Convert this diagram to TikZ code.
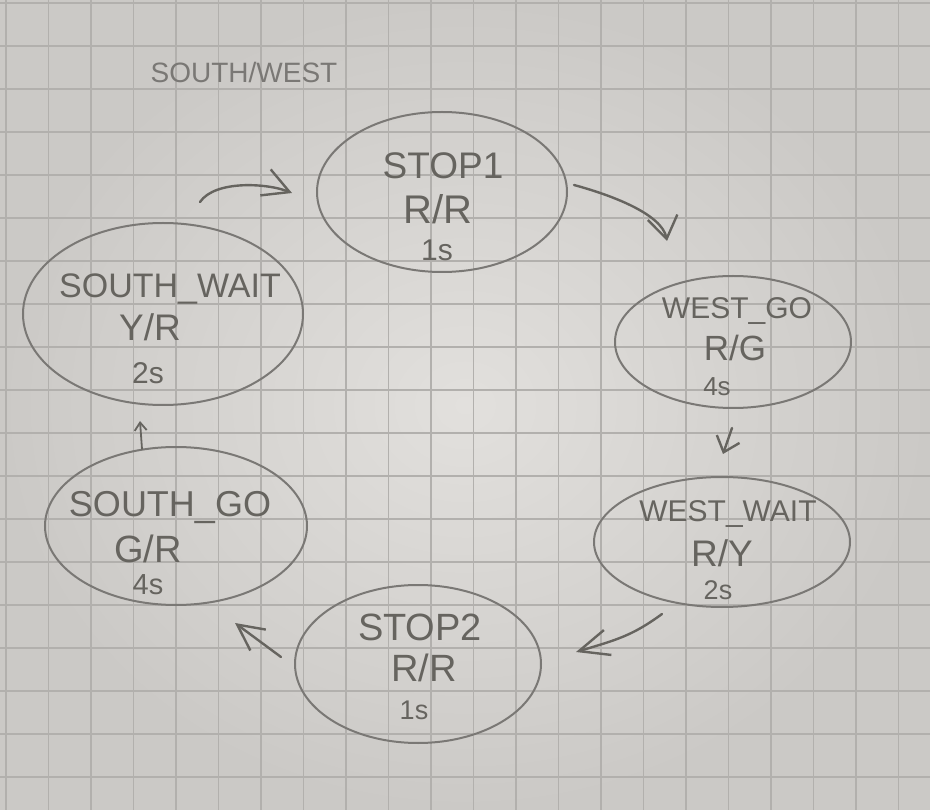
\documentclass[tikz,border=0pt]{standalone}
\usepackage{fontspec}
\setmainfont{Liberation Sans}
\usetikzlibrary{shapes.geometric,arrows.meta,calc}

\definecolor{paperlight}{HTML}{E2E0DD}
\definecolor{paperdark}{HTML}{CBC9C6}
\definecolor{gridline}{HTML}{B2B0AD}
\definecolor{pencil}{HTML}{7A7875}
\definecolor{lead}{HTML}{66645F}

\begin{document}
\begin{tikzpicture}[x=1pt,y=-1pt,
  state/.style={draw=pencil, line width=2pt, ellipse, inner sep=0pt},
  % text placed by the middle of its capitals; argument = font size in pt
  txt/.style={text=lead, inner sep=0pt, anchor=base,
    font=\fontsize{#1}{#1}\selectfont, yshift={-0.36*#1pt}},
  arr/.style={draw=lead, line width=2.4pt, line cap=round, line join=round},
]
\useasboundingbox (0,0) rectangle (930,810);

% squared paper
\shade[inner color=paperlight, outer color=paperdark] (0,0) rectangle (930,810);
\foreach \x in {6,48.5,...,930} \draw[gridline, line width=1.4pt] (\x,0) -- (\x,810);
\foreach \y in {3,46,...,810} \draw[gridline, line width=1.4pt] (0,\y) -- (930,\y);

% title
\node[txt=28, text=pencil] (title) at (244,72) {SOUTH/WEST};

% states
\node[state, minimum width=250pt, minimum height=160pt] (stop1) at (442,192) {};
\node[state, minimum width=236pt, minimum height=132pt] (wgo)   at (733,342) {};
\node[state, minimum width=256pt, minimum height=130pt] (wwait) at (722,542) {};
\node[state, minimum width=246pt, minimum height=158pt] (stop2) at (418,664) {};
\node[state, minimum width=262pt, minimum height=158pt] (sgo)   at (176,526) {};
\node[state, minimum width=280pt, minimum height=182pt] (swait) at (163,314) {};

% state texts: name, lights, duration
\node[txt=37] (stop1a) at (443,165) {STOP1};
\node[txt=40] (stop1b) at (438,209) {R/R};
\node[txt=30] (stop1c) at (437,250) {1s};

\node[txt=30] (wgoa) at (737,308) {WEST\_GO};
\node[txt=35] (wgob) at (735,348) {R/G};
\node[txt=26] (wgoc) at (717,386) {4s};

\node[txt=30] (wwaita) at (728,511) {WEST\_WAIT};
\node[txt=37] (wwaitb) at (722,553) {R/Y};
\node[txt=27] (wwaitc) at (718,590) {2s};

\node[txt=38] (stop2a) at (420,627) {STOP2};
\node[txt=38] (stop2b) at (424,668) {R/R};
\node[txt=27] (stop2c) at (414,710) {1s};

\node[txt=36] (sgoa) at (170,504) {SOUTH\_GO};
\node[txt=38] (sgob) at (148,549) {G/R};
\node[txt=29] (sgoc) at (148,584) {4s};

\node[txt=34] (swaita) at (170,285) {SOUTH\_WAIT};
\node[txt=37] (swaitb) at (150,327) {Y/R};
\node[txt=30] (swaitc) at (148,373) {2s};

% transitions
\draw[arr, -{Straight Barb[length=26pt,width=28pt]}]
  ($(swait.north)+(37,-20)$) .. controls +(15,-22) and +(-25,-10) .. ($(stop1.west)+(-24,1)$);
\draw[arr, -{Straight Barb[length=22pt,width=30pt]}]
  ($(stop1.east)+(6,-7)$) .. controls +(37,10) and +(-5,-27) .. ($(wgo.north)+(-66,-34)$);
\draw[arr, -{Straight Barb[length=14pt,width=24pt]}]
  ($(wgo.south)+(-1,19)$) -- ($(wwait.north)+(1,-22)$);
\draw[arr, -{Straight Barb[length=30pt,width=26pt]}]
  ($(wwait.south)+(-60,6)$) .. controls +(-30,22) and +(40,-12) .. ($(stop2.east)+(34,-12)$);
\draw[arr, -{Straight Barb[length=26pt,width=26pt]}]
  ($(stop2.west)+(-13,-7)$) -- ($(sgo.south)+(59,17)$);
\draw[arr, line width=1.8pt, -{Straight Barb[length=8pt,width=12pt]}]
  ($(sgo.north)+(-34,3)$) -- ($(swait.south)+(-23,15)$);
\end{tikzpicture}
\end{document}
